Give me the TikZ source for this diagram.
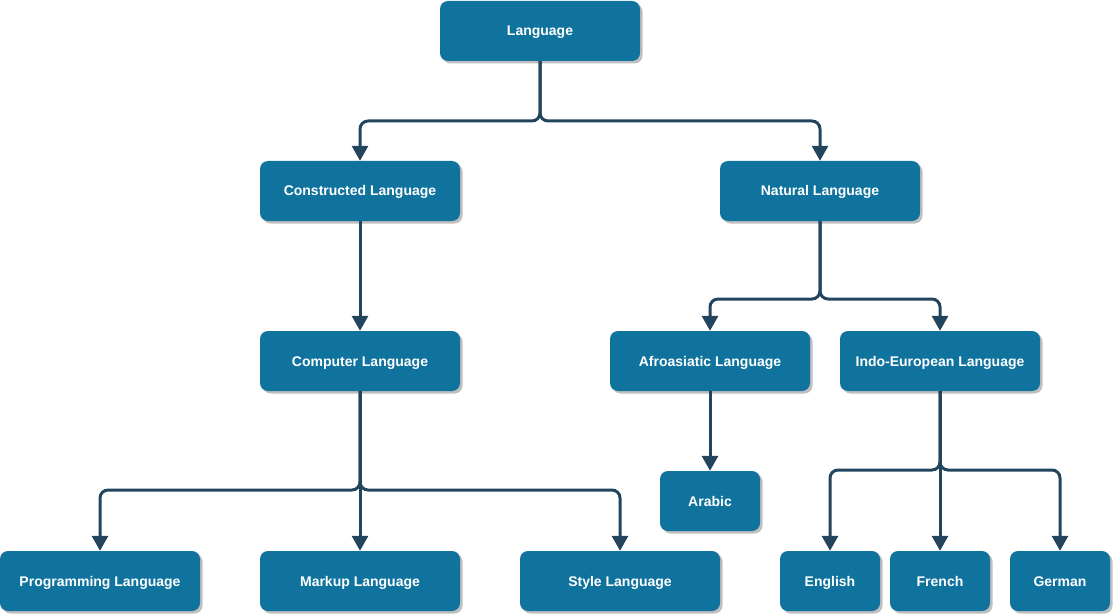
\documentclass[tikz,border=0pt]{standalone}
\usepackage{fontspec}
\setmainfont{Liberation Sans}
\usetikzlibrary{arrows.meta,shadows}
\definecolor{boxblue}{HTML}{10739E}
\definecolor{linkblue}{HTML}{23445D}
\begin{document}
\begin{tikzpicture}[x=1pt,y=-1pt,
    box/.style={fill=boxblue,rounded corners=8pt,minimum width=200pt,minimum height=60pt,text=white,
        font=\bfseries\fontsize{14}{16}\selectfont,text height=10pt,text depth=0pt,
        drop shadow={shadow xshift=2.5pt,shadow yshift=-2.5pt,fill=black!25,opacity=1}},
    smallbox/.style={box,minimum width=100pt},
    link/.style={draw=linkblue,line width=3pt,rounded corners=8pt,-{Triangle[width=16pt,length=15pt]}}]
    \useasboundingbox (0,0) rectangle (1114,615);
    % boxes
    \node [box] (lang) at (540,31) {Language};
    \node [box] (cons) at (360,191) {Constructed Language};
    \node [box] (nat) at (820,191) {Natural Language};
    \node [box] (comp) at (360,361) {Computer Language};
    \node [box] (afro) at (710,361) {Afroasiatic Language};
    \node [box] (indo) at (940,361) {Indo-European Language};
    \node [smallbox] (arab) at (710,501) {Arabic};
    \node [box] (prog) at (100,581) {Programming Language};
    \node [box] (mark) at (360,581) {Markup Language};
    \node [box] (styl) at (620,581) {Style Language};
    \node [smallbox] (eng) at (830,581) {English};
    \node [smallbox] (fre) at (940,581) {French};
    \node [smallbox] (ger) at (1060,581) {German};
    % junctions
    \coordinate (j1) at (540,121);
    \coordinate (j2) at (820,299);
    \coordinate (j3) at (360,490);
    \coordinate (j4) at (940,470);
    % links
    \foreach \p/\j/\c in {lang/j1/cons,lang/j1/nat,nat/j2/afro,nat/j2/indo,comp/j3/prog,comp/j3/styl,indo/j4/eng,indo/j4/ger}
        \draw [link] (\p.south) -- (\j) -| (\c.north);
    \foreach \p/\c in {cons/comp,comp/mark,afro/arab,indo/fre}
        \draw [link] (\p.south) -- (\c.north);
\end{tikzpicture}
\end{document}
